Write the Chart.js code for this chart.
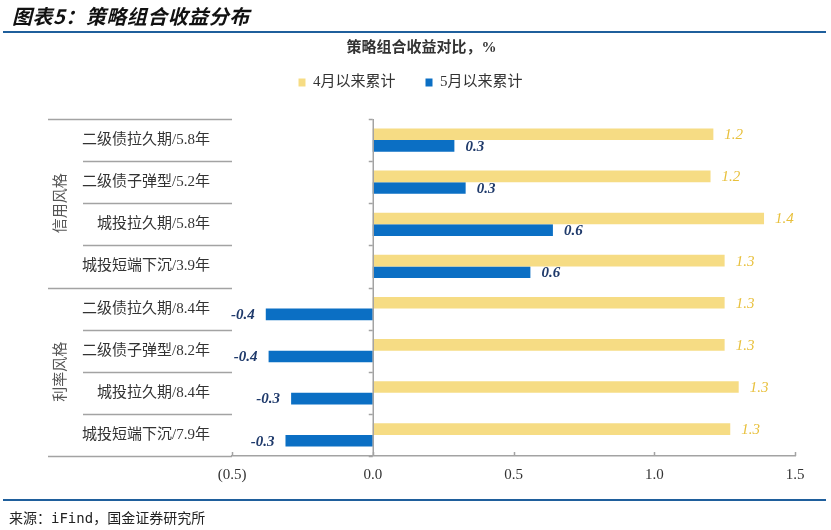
<!DOCTYPE html>
<html>
<head>
<meta charset="utf-8">
<script src="https://cdn.jsdelivr.net/npm/chart.js@4.4.1/dist/chart.umd.min.js"></script>
<style>
  body { margin: 0; background: #fff; }
  #wrap { position: relative; width: 831px; height: 530px; overflow: hidden; }
  #chart { position: absolute; left: 0; top: 0; }
  .head { position: absolute; left: 12px; top: 1px; font: italic bold 20px "Noto Sans CJK SC", sans-serif; color: #111; letter-spacing: 0.5px; }
  .rule { position: absolute; left: 3px; width: 823px; height: 2px; background: #1f5f9c; }
  .foot { position: absolute; left: 9px; top: 507px; font: 14px "DejaVu Sans Mono", "Noto Sans CJK SC", monospace; color: #222; }
</style>
</head>
<body>
<div id="wrap">
  <canvas id="chart" width="831" height="530"></canvas>
  <div class="head">图表5：策略组合收益分布</div>
  <div class="rule" style="top:31px"></div>
  <div class="rule" style="top:499px"></div>
  <div class="foot">来源：iFind，国金证券研究所</div>
</div>
<script>
const categories = [
  "二级债拉久期/5.8年",
  "二级债子弹型/5.2年",
  "城投拉久期/5.8年",
  "城投短端下沉/3.9年",
  "二级债拉久期/8.4年",
  "二级债子弹型/8.2年",
  "城投拉久期/8.4年",
  "城投短端下沉/7.9年",
];
const sinceApril = [1.21, 1.2, 1.39, 1.25, 1.25, 1.25, 1.3, 1.27];
const sinceMay = [0.29, 0.33, 0.64, 0.56, -0.38, -0.37, -0.29, -0.31];
const seriesNames = ["4月以来累计", "5月以来累计"];
// group name, first and last category index
const groups = [
  ["信用风格", 0, 3],
  ["利率风格", 4, 7],
];
const xTicks = [-0.5, 0, 0.5, 1, 1.5];
const xTickLabels = ["(0.5)", "0.0", "0.5", "1.0", "1.5"];

const SERIF = "'Liberation Serif', 'Noto Sans CJK SC', serif";
const AXIS = "#a3a3a3";
const TABLE_LEFT = 48;
const INNER_LEFT = 83;

// room between the legend and the plot, and nudge the legend row a bit left
const legendSpacer = {
  id: "legendSpacer",
  beforeUpdate(chart) {
    const lg = chart.legend;
    if (!lg || lg._spaced) return;
    const fit = lg.fit;
    lg.fit = function () {
      fit.call(this);
      this.height += 19;
      this.lineWidths[0] += 22;
    };
    lg._spaced = true;
  },
};

const valueLabels = {
  id: "valueLabels",
  afterDatasetsDraw(chart) {
    const ctx = chart.ctx;
    ctx.save();
    ctx.textBaseline = "middle";
    chart.data.datasets.forEach((ds, di) => {
      const meta = chart.getDatasetMeta(di);
      ctx.font = (di == 0 ? "italic 15px " : "italic bold 15px ") + SERIF;
      ctx.fillStyle = di == 0 ? "#e8c03c" : "#1f3a6b";
      meta.data.forEach((bar, i) => {
        const v = ds.data[i];
        const txt = v.toFixed(1);
        if (v >= 0) {
          ctx.textAlign = "left";
          ctx.fillText(txt, bar.x + 11, bar.y + 1);
        } else {
          ctx.textAlign = "right";
          ctx.fillText(txt, bar.x - 11, bar.y + 1);
        }
      });
    });
    ctx.restore();
  },
};

const tableFrame = {
  id: "tableFrame",
  afterDraw(chart) {
    const { ctx, chartArea } = chart;
    const x = chart.scales.x;
    const y = chart.scales.y;
    const step = (chartArea.bottom - chartArea.top) / categories.length;
    const x0 = x.getPixelForValue(0);
    ctx.save();
    ctx.strokeStyle = AXIS;
    ctx.lineWidth = 1.5;

    // row separators on the left
    for (let i = 0; i <= categories.length; i++) {
      const yy = Math.round(chartArea.top + i * step) + 0.5;
      const outer = groups.some(([_, a, b]) => i == a || i == b + 1);
      ctx.beginPath();
      ctx.moveTo(outer ? TABLE_LEFT : INNER_LEFT, yy);
      ctx.lineTo(chartArea.left, yy);
      ctx.stroke();
      // small tick marks on the zero axis
      ctx.beginPath();
      ctx.moveTo(x0 - 4, yy);
      ctx.lineTo(x0, yy);
      ctx.stroke();
    }

    // zero axis
    ctx.beginPath();
    ctx.moveTo(x0 + 0.5, chartArea.top);
    ctx.lineTo(x0 + 0.5, chartArea.bottom);
    ctx.stroke();

    // x ticks pointing up
    xTicks.forEach((v) => {
      const px = Math.round(x.getPixelForValue(v)) + 0.5;
      ctx.beginPath();
      ctx.moveTo(px, chartArea.bottom);
      ctx.lineTo(px, chartArea.bottom - 4);
      ctx.stroke();
    });

    // group names, rotated
    ctx.fillStyle = "#555";
    ctx.font = "15px " + SERIF;
    ctx.textAlign = "center";
    ctx.textBaseline = "middle";
    groups.forEach(([name, a, b]) => {
      const cy = (y.getPixelForValue(a) + y.getPixelForValue(b)) / 2;
      ctx.save();
      ctx.translate(61, cy);
      ctx.rotate(-Math.PI / 2);
      ctx.fillText(name, 0, 0);
      ctx.restore();
    });
    ctx.restore();
  },
};

new Chart(document.getElementById("chart"), {
  type: "bar",
  data: {
    labels: categories,
    datasets: [
      {
        label: seriesNames[0],
        data: sinceApril,
        backgroundColor: "#f6dc84",
        borderWidth: 0,
      },
      {
        label: seriesNames[1],
        data: sinceMay,
        backgroundColor: "#0b6fc4",
        borderWidth: 0,
      },
    ],
  },
  options: {
    indexAxis: "y",
    responsive: false,
    animation: false,
    categoryPercentage: 0.55,
    barPercentage: 1,
    layout: {
      padding: { left: TABLE_LEFT, right: 36, top: 0, bottom: 44 },
    },
    scales: {
      x: {
        min: -0.5,
        max: 1.5,
        afterBuildTicks: (s) => {
          s.ticks = xTicks.map((v) => ({ value: v }));
        },
        ticks: {
          callback: (v, i) => xTickLabels[i],
          font: { family: SERIF, size: 15 },
          color: "#333",
          padding: 2,
          maxRotation: 0,
        },
        grid: { display: false },
        border: { display: true, color: AXIS, width: 1.5 },
      },
      y: {
        afterFit: (s) => {
          s.width = 232 - TABLE_LEFT;
        },
        ticks: {
          font: { family: SERIF, size: 15 },
          color: "#333",
          padding: 14,
        },
        grid: { display: false },
        border: { display: false },
      },
    },
    plugins: {
      title: {
        display: true,
        text: "策略组合收益对比，%",
        font: { family: SERIF, size: 15, weight: "bold" },
        color: "#333",
        padding: { top: 39, bottom: -12 },
      },
      legend: {
        labels: {
          boxWidth: 7,
          boxHeight: 8,
          padding: 30,
          font: { family: SERIF, size: 15 },
          color: "#333",
        },
      },
      tooltip: { enabled: false },
    },
  },
  plugins: [legendSpacer, valueLabels, tableFrame],
});
</script>
</body>
</html>
